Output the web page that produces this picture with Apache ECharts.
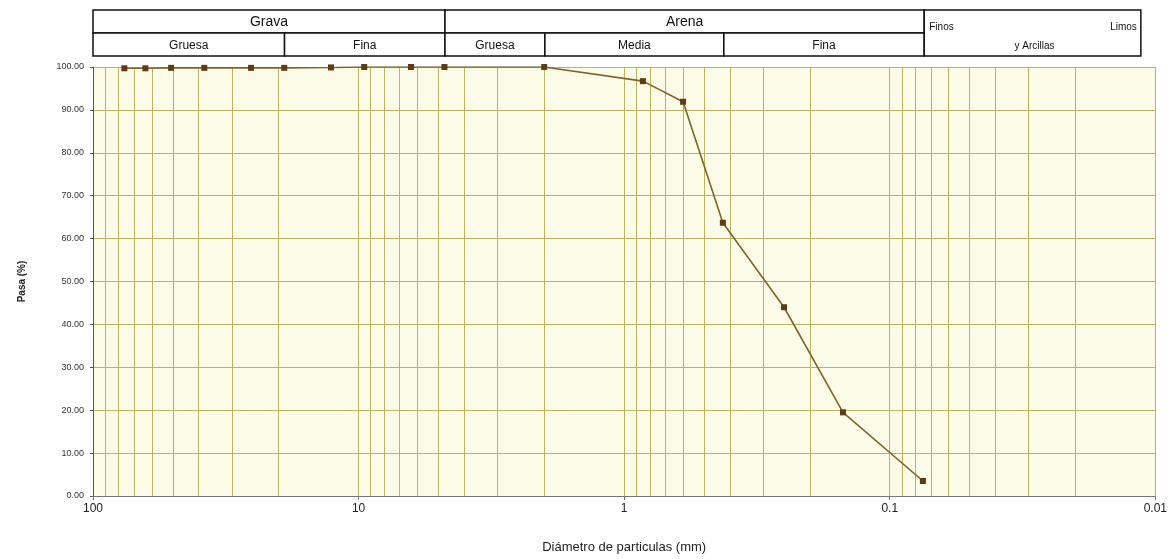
<!DOCTYPE html>
<html>
<head>
<meta charset="utf-8">
<script src="https://cdn.jsdelivr.net/npm/echarts@6/dist/echarts.min.js"></script>
<style>
  html, body { margin: 0; padding: 0; background: #ffffff; }
  #chart { width: 1170px; height: 559px; }
</style>
</head>
<body>
<div id="chart"></div>
<script>
// ---- Data ----
const sieveSizes = [76.2, 63.5, 50.8, 38.1, 25.4, 19.05, 12.7, 9.525, 6.35, 4.75, 2.0, 0.85, 0.6, 0.425, 0.25, 0.15, 0.075];
const percentPassing = [99.7, 99.7, 99.8, 99.8, 99.8, 99.8, 99.9, 100.0, 100.0, 100.0, 100.0, 96.7, 91.9, 63.7, 44.0, 19.5, 3.5];

const groupNames = ['Grava', 'Arena'];
const groupBounds = [[100, 4.75], [4.75, 0.075]];
const subNames = ['Gruesa', 'Fina', 'Gruesa', 'Media', 'Fina'];
const subBounds = [[100, 19.05], [19.05, 4.75], [4.75, 2], [2, 0.425], [0.425, 0.075]];
const finesBounds = [0.075, 0.0115];
const finesTexts = ['Finos', 'Limos', 'y Arcillas'];

const yTicks = [0, 10, 20, 30, 40, 50, 60, 70, 80, 90, 100];
const xDecades = [100, 10, 1, 0.1, 0.01];

// minor log grid values (2..9 x 10^e)
const minorGrid = [];
for (let e = -2; e <= 1; e++) {
  for (let k = 2; k <= 9; k++) minorGrid.push(+(k * Math.pow(10, e)).toPrecision(3));
}

const FONT = '"Liberation Sans", Arial, sans-serif';
const GRID_COLOR = '#bab55c';

function cellRect(api) {
  const p0 = api.coord([api.value(0), api.value(2)]);
  const p1 = api.coord([api.value(1), api.value(3)]);
  const x = Math.min(p0[0], p1[0]), y = Math.min(p0[1], p1[1]);
  return { x, y, w: Math.abs(p1[0] - p0[0]), h: Math.abs(p1[1] - p0[1]) };
}

function textCell(names, fontSize) {
  return function (params, api) {
    const r = cellRect(api);
    return {
      type: 'group',
      children: [
        { type: 'rect', shape: { x: r.x, y: r.y, width: r.w, height: r.h },
          style: { fill: '#ffffff', stroke: '#111111', lineWidth: 1.5 } },
        { type: 'text', style: { text: names[params.dataIndex], x: r.x + r.w / 2, y: r.y + r.h / 2 + 1,
          align: 'center', verticalAlign: 'middle', textAlign: 'center', textVerticalAlign: 'middle',
          fontSize: fontSize, fontFamily: FONT, fill: '#111111' } }
      ]
    };
  };
}

const chart = echarts.init(document.getElementById('chart'));
const logAxisBase = {
  type: 'log', logBase: 10, min: 0.01, max: 100, inverse: true
};

chart.setOption({
  animation: false,
  backgroundColor: '#ffffff',
  grid: [
    { left: 93, right: 13, top: 67, bottom: 62, show: true, backgroundColor: '#fbfbe8', borderWidth: 0 },
    { left: 93, right: 13, top: 10, height: 46 }
  ],
  xAxis: [
    Object.assign({}, logAxisBase, {
      gridIndex: 0,
      name: 'Diámetro de particulas (mm)',
      nameLocation: 'middle',
      nameGap: 45,
      nameTextStyle: { fontSize: 13, fontFamily: FONT, color: '#222' },
      axisLine: { show: true, lineStyle: { color: '#777', width: 1 } },
      axisTick: { show: true, length: 4, lineStyle: { color: '#777' } },
      axisLabel: {
        fontSize: 12, fontFamily: FONT, color: '#222', margin: 7,
        formatter: function (v) {
          const e = Math.round(Math.log10(v));
          const idx = xDecades.findIndex(d => Math.round(Math.log10(d)) === e);
          return idx >= 0 ? String(xDecades[idx]) : '';
        }
      },
      splitLine: { show: true, lineStyle: { color: GRID_COLOR, width: 1 } }
    }),
    Object.assign({}, logAxisBase, {
      gridIndex: 1, show: false
    })
  ],
  yAxis: [
    {
      gridIndex: 0, type: 'value', min: 0, max: 100, interval: 10,
      name: 'Pasa (%)', nameLocation: 'middle', nameGap: 66, nameRotate: 90,
      nameTextStyle: { fontSize: 10, fontWeight: 'bold', fontFamily: FONT, color: '#222' },
      axisLine: { show: true, lineStyle: { color: '#555', width: 1 } },
      axisTick: { show: true, length: 3, lineStyle: { color: '#555' } },
      axisLabel: { fontSize: 9, fontFamily: FONT, color: '#333', margin: 9,
        formatter: v => yTicks.includes(v) ? v.toFixed(2) : '' },
      splitLine: { show: true, lineStyle: { color: GRID_COLOR, width: 1 } }
    },
    { gridIndex: 1, type: 'value', min: 0, max: 2, show: false }
  ],
  series: [
    {
      type: 'line', xAxisIndex: 0, yAxisIndex: 0, data: [], silent: true, z: 1,
      markLine: {
        silent: true, symbol: ['none', 'none'], label: { show: false },
        lineStyle: { color: GRID_COLOR, width: 1, type: 'solid' },
        data: minorGrid.map(v => ({ xAxis: v }))
      }
    },
    {
      type: 'line', xAxisIndex: 0, yAxisIndex: 0, z: 5,
      data: sieveSizes.map((s, i) => [s, percentPassing[i]]),
      symbol: 'rect', symbolSize: 6,
      itemStyle: { color: '#5e3d16' },
      lineStyle: { color: '#7d6526', width: 1.6 }
    },
    {
      type: 'custom', xAxisIndex: 1, yAxisIndex: 1,
      data: groupBounds.map(b => [b[0], b[1], 1, 2]),
      encode: { x: [0, 1], y: [2, 3] },
      renderItem: textCell(groupNames, 14)
    },
    {
      type: 'custom', xAxisIndex: 1, yAxisIndex: 1,
      data: subBounds.map(b => [b[0], b[1], 0, 1]),
      encode: { x: [0, 1], y: [2, 3] },
      renderItem: textCell(subNames, 12)
    },
    {
      type: 'custom', xAxisIndex: 1, yAxisIndex: 1,
      data: [[finesBounds[0], finesBounds[1], 0, 2]],
      encode: { x: [0, 1], y: [2, 3] },
      renderItem: function (params, api) {
        const r = cellRect(api);
        const base = { fontSize: 10, fontFamily: FONT, fill: '#111111', verticalAlign: 'middle', textVerticalAlign: 'middle' };
        return {
          type: 'group',
          children: [
            { type: 'rect', shape: { x: r.x, y: r.y, width: r.w, height: r.h },
              style: { fill: '#ffffff', stroke: '#111111', lineWidth: 1.5 } },
            { type: 'text', style: Object.assign({}, base, { text: finesTexts[0], x: r.x + 5, y: r.y + 17, align: 'left', textAlign: 'left' }) },
            { type: 'text', style: Object.assign({}, base, { text: finesTexts[1], x: r.x + r.w - 4, y: r.y + 17, align: 'right', textAlign: 'right' }) },
            { type: 'text', style: Object.assign({}, base, { text: finesTexts[2], x: r.x + r.w / 2 + 2, y: r.y + 36, align: 'center', textAlign: 'center' }) }
          ]
        };
      }
    }
  ]
});
</script>
</body>
</html>
